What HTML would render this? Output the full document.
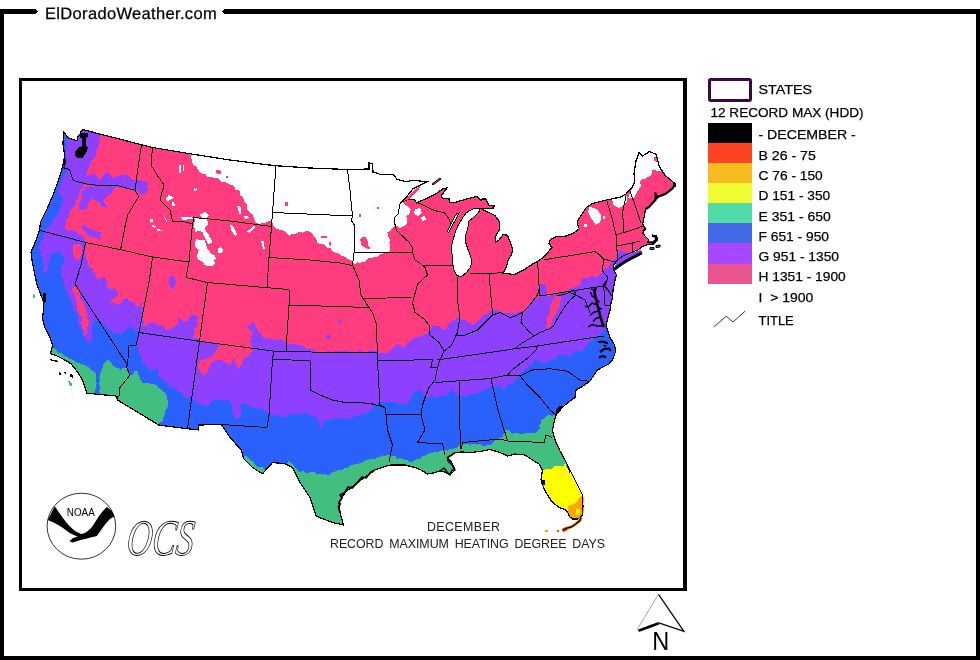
<!DOCTYPE html>
<html><head><meta charset="utf-8"><title>ElDoradoWeather.com</title>
<style>
html,body{margin:0;padding:0;background:#fff;}
body{width:980px;height:660px;position:relative;overflow:hidden;font-family:"Liberation Sans",Arial,sans-serif;color:#000;}
</style></head><body>
<svg width="980" height="660" viewBox="0 0 980 660" style="position:absolute;left:0;top:0;will-change:transform" shape-rendering="crispEdges">
<defs><clipPath id="us">
<polygon points="63.6,132 68.5,138 73,139.5 77,140.6 78,136 80.6,134.5 81,131 83,129.7 103.75,135 142.5,145 152.5,147.5 190,153.75 230,160 265,164.5 276,165.75 310,168 347.5,169.5 369,169 369,163 372.5,163.5 373,172 378,173.5 380,174.5 393,174.5 397.3,179.5 405.9,181.7 413,180.2 420,181 427.5,181.7 421.7,184.5 413,188.8 407.3,196 401.6,201.8 408.8,199 414.5,199.6 416.7,203 423,200 434.7,194.6 443,188.8 447,188 441,196 442,198 449,199 450,202.5 454.8,202.5 459.5,201 469,198.4 477.3,196.4 480.7,200.4 482.7,199 486,199 488.9,205.2 494.3,205.2 493.6,208 485.5,208.6 481.4,208.3 483.6,210.4 489.5,212.7 495,215.5 499,221 499.8,229 495,237.3 495.7,242 499,240 503.2,234.5 507.3,235.2 510,241.4 512.7,249.5 511.4,255 508.6,259 506,267.3 503.2,273.4 510,274 514,274.8 519.5,272 525,269.3 529,266.3 537.6,261.2 543.3,257.6 552,247.6 549,243.2 550.5,239.6 556.3,236.8 566.3,236 573.5,233.2 579.3,228.8 577,223 579.3,218 586.5,207.3 592.2,203.7 606.6,200 620,197.2 626,194 628.6,191 632.3,187.4 634.7,181.4 634,174 636,160.8 639,152.9 642.6,155.9 649.2,151.7 655.9,154 659.5,166.8 665,175.3 675.3,183.8 672.3,188.6 666.2,193.5 660.2,196 655.3,199.5 649.2,206.8 645.6,209.2 644.4,215.3 642.7,224 645,228.6 642.7,233.2 645,236 648.6,239.5 647.7,242.3 653,242.3 656.4,239.5 655,236.4 652.3,236 652.5,235 656,235.5 657.8,239.5 654,244 648,244.5 641.4,246.8 639.5,249.5 635,251 629.5,253.2 623.2,256 616.8,260.5 613.2,266 614,270.5 616.5,275 615,280 613,290 612.5,297.5 611,303 610,310 608,318 606,325 608,331 610,337.5 614,344 616,350 614,356 612.5,360 609,364 605,366 601,368 597.5,370 594,375 590,381 583,386 576,390 575,397.5 570,401 565,405 561,409 557.5,412.5 555,418 554,422.5 552.5,430 554,437 556,442.5 560,451 565,460 570,470 577.5,485 582.5,495 583,507.5 582,516 577.7,519 572.3,519 569.5,516.6 567.5,511.8 564,509 560,508 552.5,502.5 546,492.5 543,486 541,480 542.5,470 539,464 532.5,460 525,455 515,454 507.5,456 500,452.5 490,449.5 480,451.5 470,452.5 462,452 455,452.5 447.5,457.5 452,463 455,470 450,475 445,472 440,471 433,473 427.5,474 421,470 415,467.5 405,465 390,465 375,470 357.5,482.5 345,492.5 339,502.5 340,512.5 343.5,525 332.5,522.5 316.25,516.25 310,497.5 300,482.5 292.5,467.5 285,463.75 272.5,462.5 262.5,473.75 252.5,467.5 243.75,458.75 241.25,450 230,437.5 221.25,424.5 198.75,425 198.75,430 187.5,428.75 158.75,425 117.5,400 116,396 100,394.5 86.8,393.2 82.2,379.5 76.5,370.5 70.9,363.6 63,359 57,356 50.4,353.4 52.7,345.5 50.4,338.6 44.7,327.3 42.5,318.2 43.6,309 43.6,302.3 40.2,293.2 36.8,284 34.5,272.7 32.2,261.4 31,252 35.8,241 39.4,230 40.6,221.8 46.7,209.7 54,192.7 60,175.8 62.4,167 64.8,156 63,144"/>
<polygon points="614,268.6 618,264 624,260 630,257 636,254 641.4,252.3 642,253.5 637,256.5 631,259.5 625,263 619,267 615,270"/>
<polygon points="432,184 440,178 441,179 433,185"/>
<polygon points="650,247.5 654,247.5 654,249.5 650,249.5"/>
<polygon points="656,245.5 660,245 660,247 656,247.5"/>
</clipPath></defs>
<g clip-path="url(#us)">
<rect x="20" y="100" width="670" height="450" fill="#FF3D7E"/>
<polygon points="190,140 189.2,142.8 189.5,145.5 191.2,148.2 190.4,151 190,153.75 190.9,156.6 191.6,159.6 192.5,162.5 192.9,165.4 196.4,165.8 196.6,168.8 198.8,170.3 200,172.5 202.5,173.7 205.4,174.2 207.3,176.7 210,177.5 212.7,177.3 215,178.6 217.8,178 220,180 222,182.3 225,182 227.5,182.9 229.8,184.6 232.5,185 234.6,186.7 235.4,189.6 239.1,189.6 240,192.5 240.5,195.5 242.8,197.5 244,200 245,203 247.6,205 247,207.8 247.6,210.3 249.7,212.4 252.6,214.4 253.9,217.7 255,222 259,224 263.5,223 266.9,222.3 269.8,220.5 272.4,222.1 273,225 276,228.5 280,230 283,230.6 285.6,232 287.8,234 290,236 291.9,233.5 295.4,234.6 297.5,232.5 299.9,231.5 302.6,232.6 305,231.5 307.5,231 310.6,232.5 312.9,234.9 315,237.5 316.7,239.8 317.5,242.5 319.8,243.9 322.8,243.8 324.9,245.8 327.1,247.6 330,247.5 331.7,250.8 335,252.5 337.8,253.2 340.1,254.9 342.5,256.2 345.3,256.9 347.5,258.75 350.3,260.2 352.5,262.5 354.8,264.3 357.7,261.9 360,263.75 362,261.5 365.2,261.7 366.9,258.9 369.7,258.2 372.5,257.5 375.3,257.4 377.9,256.8 379.9,254.3 382.5,253.75 384.6,251.7 388,252.3 390,250 390.4,247.5 390,245 389.5,242.5 390,240 388.7,237.6 387.7,235.2 387.5,232.5 390.5,230.9 392.5,228.1 395,226 397.8,226.2 400,228 404,226 406.4,224.7 407,222 407.3,218.9 406,216 408.8,214.8 410,212 410.8,209.2 409,207 406.5,206.1 405,204 401.6,201.8 404.5,200.7 406.4,198.5 408,196 409.8,193.5 411.6,191 414,189 416.7,188 419.4,186.9 421.6,184.6 424.7,184.3 427.9,184.4 430,182 429.9,179.4 429.7,176.8 431.3,174.1 431.5,171.5 431.3,168.9 428.6,166.2 431.1,163.6 429.1,161 429.5,158.4 431.1,155.8 428.8,153.1 428.9,150.5 429.3,147.9 429.1,145.2 429.5,142.6 430,140" fill="#FFFFFF" />
<polygon points="179.4,164.6 181,164.6 181,172.5 179.4,172.5" fill="#FFFFFF" />
<polygon points="182.5,165 184,165 184,171 182.5,171" fill="#FFFFFF" />
<polygon points="193.5,187.5 195,189 197.5,188 196,191 194.5,190.5" fill="#FFFFFF" />
<polygon points="165.5,199 168,196.5 169,194 170.5,196 174,197.5 171,199.5 168,201" fill="#FFFFFF" />
<polygon points="171.5,202.5 174,202 175,205.5 172.5,205.5" fill="#FFFFFF" />
<polygon points="149.5,219 152.5,218.5 153.5,221 150.5,222.5" fill="#FFFFFF" />
<polygon points="152.5,224.5 156,226.5 155,228 152,226.5" fill="#FFFFFF" />
<polygon points="156.5,228.5 161.5,230 161.5,231.5 157,230.5" fill="#FFFFFF" />
<polygon points="163.5,216.5 164.5,216.5 167.5,221.5 166.5,222" fill="#FFFFFF" />
<polygon points="181,217.5 186,216.8 192,216.5 193,219 187,219.5 182,219.5" fill="#FFFFFF" />
<polygon points="200,214.8 205,211.9 209,215.8 207,217.8 202,217.8" fill="#FFFFFF" />
<polygon points="194,217.8 196.7,217.7 199.4,217.5 201.9,218.1 204.6,217.9 207,219.7 208.2,222 208,224.6 205.7,226 205,228.6 206.2,231.3 208.4,233.5 208.9,236.5 211.3,239 211.9,242.4 208.9,244.3 206.7,241.5 205,238.4 203.7,235.5 203,232.5 199,230.5 195.1,232.5 195.5,229.2 193.5,226.6 193.6,223.7 195,220.8" fill="#FFFFFF" />
<polygon points="197,238.4 199.4,240.2 202.1,240.5 205,240.4 205.5,243.1 206.3,245.6 207,248.1 208.9,250.2 210.2,252.5 212.2,254.2 215.1,255.1 215.8,258 214.2,260.8 214.8,264 212.5,266 209.8,266.1 207,266 204.5,264.9 203.3,262.4 201,261 198,259.3 197,256 197.8,253 199,250.2 196.6,248.6 195,246.3 194.8,243.5 195.7,240.9" fill="#FFFFFF" />
<polygon points="217.8,248.5 221,247.3 223.7,250 221.5,253.2 218.5,252.5" fill="#FFFFFF" />
<polygon points="229.6,224.6 232.5,225.6 237.4,234.5 235.5,236.5 231.5,230.5" fill="#FFFFFF" />
<polygon points="237.4,206 240.4,206.5 241.4,213.8 239,213.8" fill="#FFFFFF" />
<polygon points="244,216 247,215.6 248.6,217.5 246,218.8 244,218" fill="#FFFFFF" />
<polygon points="247.3,231.5 254.2,225.6 255.2,227.6 249.2,232.9" fill="#FFFFFF" />
<polygon points="261,240.4 263.5,241 265,249.2 263,249.2" fill="#FFFFFF" />
<polygon points="415,209 420,208 422,213 418,216 414,214" fill="#FFFFFF" />
<polygon points="421,217 425,216 426,220 422,221" fill="#FFFFFF" />
<polygon points="633,186 637,186 637.7,183 640.3,181.2 642.7,178.8 645.5,179.2 647.4,176.8 650,176.4 652.1,173.7 652.4,170.3 655.6,170.4 658.8,170.8 662,170.3 662.7,167.8 663.1,165.2 661.2,162.7 660.7,160.2 661.3,157.7 662.7,155.2 663,152.6 661.6,150.1 660.9,147.6 661.7,145.1 663.4,142.5 662,140 659.3,140.1 656.7,141.3 654,138.9 651.3,141 648.7,140.6 646,138.7 643.3,139.6 640.7,139.4 638,140.1 635.3,140.5 632.7,139.9 630,140 630,186" fill="#FFFFFF" />
<polygon points="628,198 633,186 640,181 641,186 637,192 634,198" fill="#FFFFFF" />
<polygon points="612,199.5 627,195.5 627.5,200.6 624.5,204.2 621,207 618.5,207.9 613.6,205.5" fill="#FFFFFF" />
<polygon points="589.4,206.7 596.7,209 601.5,215 600.3,222.4 595.5,224.8 590.6,217.6 588,211.5" fill="#FFFFFF" />
<polygon points="584,224 587,224.5 586.5,227 584,226.5" fill="#FFFFFF" />
<polygon points="603,216 605.5,216 605,219.5 603,219" fill="#FFFFFF" />
<polygon points="215.8,170.5 219,169.5 221.7,172 220,174.4 217,174" fill="#FF3D7E" />
<polygon points="226,175.5 228,175.5 228,177.5 226,177.5" fill="#FF3D7E" />
<polygon points="284.7,202 287.6,202.5 287.6,206 285,206" fill="#FF3D7E" />
<polygon points="360,240 362,237 366,237.5 368,242 368.5,246 371,249.5 368,249 364,247 361,245 361.1,242.4" fill="#FF3D7E" />
<polygon points="321,236 327,236.5 327,238.5 321,238" fill="#FF3D7E" />
<polygon points="328.5,241.5 330.5,242 331.5,246 329.5,245.5" fill="#FF3D7E" />
<polygon points="653.6,157 657.3,157.5 657,161.8 654,161" fill="#FF3D7E" />
<polygon points="359,214 361,214 361,217 359,217" fill="#FF3D7E" />
<polygon points="377,207 379,207 379,209 377,209" fill="#FF3D7E" />
<polygon points="20,120 100,120 101.2,122.8 99.5,125.7 99.5,128.5 101.4,131.3 100.4,134.2 100,137 99.9,140.1 99.3,143 98.9,146 96.8,148.5 96.4,151.5 96.5,154.6 94.9,156.8 93.3,159 91.4,161.1 90.3,163.6 90.1,166.2 87.8,168.2 87.5,170.7 86.4,173.1 86.7,175.8 85.9,178.5 84,180.6 85,183.6 83,186 82.2,188.6 80.1,190.7 78.6,193 78.5,196 78.2,198.9 75.5,201 75.5,204 74.3,206.5 72.3,208.4 69.9,210 69.4,213 69.2,216 67.8,218.6 65.8,220.9 65.8,224 64.8,226.7 66.4,229.7 69.2,231.7 72.7,229.5 75.5,231.2 77.6,233.4 80.1,235 83,235.8 84.5,238.7 85.3,241.8 86,246 85,250 85,253.2 86,256 86.3,259.1 88.3,261.7 88.2,264.9 89.8,267.2 92.9,268.8 93.3,271.7 95.6,274.1 95.9,277.7 98.3,280 101.3,277.6 105,276.7 105.9,279.6 107.1,282.4 106.6,285.6 108.3,288.3 111.7,289 115,288.3 117.2,291.4 118.3,295 116.2,296.6 115.1,299.5 111.6,299.4 110,301.7 113.7,302.7 116.7,305 119.2,303.9 121.6,302.6 122.9,300 125,298.3 127.8,298.3 129.2,301.1 131.7,301.7 134.8,302.2 135.3,306.1 138.3,306.7 140.8,304.2 143.3,301.7 142.3,304.1 141.2,306.5 143.5,309.4 141.7,311.7 142.9,314 142,316.9 143,319.3 143.9,321.7 143.3,324.5 145,326.7 147.9,325.3 150.1,322.7 153.3,321.7 156.4,323.9 160,325 163.3,325.7 165.2,328.9 168.3,330 171.6,329.2 173.8,326.4 176.7,325 178.7,322.5 177.7,319.4 178.3,316.7 179.9,318.9 182.7,320.3 183.3,323.3 185.2,321 188.2,319.9 189.4,316.9 191.7,315 195.1,315.3 198.3,316.7 198.6,319.3 196.3,321.5 198.3,324.4 196.7,326.7 194.4,328.7 193.7,331.3 195.2,334.6 193.3,336.7 195.3,338.3 198.3,338.6 199.5,341.3 200.4,343.9 200.5,346.4 198.1,349 200.7,351.6 200.7,354.1 198.7,356.7 200.2,359.2 199.5,361.8 198.1,364.8 197.5,368 199.9,369.3 200.3,372.2 202.9,373.3 203.6,376 206.6,373.6 207.7,370 209.6,367.3 210,364 213,361.9 215.9,359.8 218.7,360.1 221.6,360 224,361.8 227.5,363.1 230,365.9 231.1,363 232.3,360.1 234.3,357.7 235.2,360.6 235.5,363.7 237.3,366.2 238.4,369 239.9,366.8 241.5,364.7 241.5,361.8 243.5,359.4 245.6,356.9 248.6,355.7 250.3,352.9 252.7,350.6 252.7,347.5 251.5,344.9 250,342.4 250.6,339.3 251.3,336.5 252.3,333.8 252.7,331 249.8,330.4 248.2,328.2 246.6,326 249.9,324.4 252.7,322 255.3,323.7 255.3,327.2 257.8,329 258.5,331.7 261.2,333.2 262.7,335.4 263,338.3 265.7,337.5 268,338.9 270.7,338.1 273,339.7 275.8,339.3 278.6,339.8 281.3,339.3 284.3,341.4 287.5,343.4 290.4,344.9 293.8,343.2 296.7,344.5 299.7,345.4 302.6,345.6 304.8,347.5 307.2,349.1 310,349.5 313.2,349.1 315.8,351.7 318.7,352.6 322,352 324.7,351.9 327.4,351.5 330,351 332.5,351.9 335,351.4 337.5,351 340,351 342.5,351.1 345,351 347.5,349.7 350,352.1 352.5,351.1 355,352.4 357.5,352.4 360,349.7 362.5,352 365,351.8 367.5,351.7 370,350.1 372.5,350 375,351 377.6,351.3 379.8,353 382.6,352.5 385.2,352.6 387.5,354 388.4,350.9 391.6,349.8 393.6,347.6 395,345 397.9,344.2 400.3,344.9 402.6,346.7 405,347.5 406,344.5 408.1,342.6 410.5,341 412.2,338.7 415,337.5 417.6,337.3 420.3,337.1 422.5,335.4 424.9,334.2 427.5,334 428.2,331.4 429.8,329.4 432.3,327.8 432.5,325 434.8,326.5 437.5,325.5 440,326 442.1,328.5 445,330 447.3,327.9 447.7,324.6 450,322.5 452.1,320.4 455.4,320.7 456.9,317.5 460,317.5 461.9,319.9 465.6,319.5 467.3,322.3 470.4,322.8 472.5,325 475.4,323.5 477.4,320.8 480,319 482,317.2 483.4,314.7 486.8,314.4 488.9,312.8 490,310 492.5,311 495,309.9 497.5,310 500,312.5 502.5,312.1 505,313.5 507.5,312.5 510,313 512.6,313.2 515,314 517.2,312.2 519.9,311.8 522.5,311 525,310 526.6,307.9 528.4,305.8 530,303.8 532.1,302 533.2,299.5 535,297.5 537.8,297.6 540,296 542.7,297 545.3,295.5 548,296 550.7,295.7 553.2,294.4 556,294.5 558.8,293.8 561.2,292 564,291.5 567.5,290.9 570,288.3 573.1,287.6 576,286.5 580,285 581.4,281.8 581.7,278.3 584.8,277.5 588,278 591.2,275.9 595,276.7 598,276.6 599.9,274.7 601.7,272.5 602.9,269.5 606,268.5 608.4,267.3 609.5,264.8 611.5,262.8 613.2,260.5 616.8,257.7 617.6,254.6 619,251.9 621,249.5 623.2,251.4 627.7,253.2 632.3,251.8 635.4,250.7 638.6,250 642,248 645,246.5 648,245 650,243 651,240 650.5,237 652,233 654.4,231.4 657,231.9 659.7,233.7 662.2,232.5 664.7,232 667.2,231.4 669.7,231.4 672.2,231 674.8,230.6 677.3,230 680,232.3 682.4,231.1 685,231.4 687.5,231 690,230 690,600 20,600" fill="#8E40FF" />
<polygon points="83,178.2 85,176 88,176 90.5,174.1 93.6,173.6 97,177 101.2,179.7 101.8,176.6 104.2,174.6 105.8,172 110,174 111.7,176 113.3,178.2 115.6,177 118,176 120.8,174.5 124,175 127.4,174.7 130,177 131.6,179.5 134.5,179.7 138,180 140.6,179.8 143,181 146.1,181.4 148,184 146.7,186.5 148.6,189.5 147,192 144.3,193.7 142,196 139,193 136,190 133.3,189.2 130.7,188 127.9,187.6 125,188.5 122.7,186.6 120,188.1 117.5,187.5 115,187 112.5,187.5 110,188 107.5,187.2 105,187 102.4,187.7 99.9,187.3 97.6,185.2 95,186 92,185.8 89.1,184.6 86,185 83.1,182.2" fill="#8E40FF" />
<polygon points="86,186.5 88.6,187 91.2,185.6 93.9,187.1 96.5,185.2 99.1,187.7 101.7,187.4 104.3,187.8 106.9,185.5 109.6,185.5 112.2,185.4 114.8,186.5 114.2,189.3 112.1,190.9 111.5,193.6 108.8,194.8 106.5,197.1 104.2,199.4 104.5,202.7 106.9,205.3 107.3,208.5 104.5,206.9 101.2,207 100.7,204.3 98.8,202.6 96.7,201 93.9,199.3 90.6,199.4 89.5,202 87.6,204 87.1,207.1 86,210 82.8,209 80,210.8 78.7,207.5 78.5,204 80.1,201.7 81.5,199.3 81.5,196.4 81.1,193.1 83,190.3" fill="#8E40FF" />
<polygon points="81.5,225 84.8,225.7 87.6,227.4 90,228.8 92.9,229.2 95,231.2 98.2,231.6 101.2,232.7 99.7,235 100.9,237.9 99.7,240.3 97,238 93.6,237.3 89,235.8 87,233.3 84.5,231.2 82.5,228.4" fill="#8E40FF" />
<polygon points="168,277 174,276 176,283 173,290 170,286" fill="#8E40FF" />
<polygon points="325.5,314.5 327,315 327.8,317.6 326,317" fill="#8E40FF" />
<polygon points="337.7,320 339.5,319 341.5,322 340.5,323.7 338.5,322.5" fill="#8E40FF" />
<polygon points="325.5,336 328,334.4 330.8,335.5 330,339.8 327,339" fill="#8E40FF" />
<polygon points="539,284 546,284 547,293 543,297 540,296" fill="#8E40FF" />
<polygon points="199.5,341.5 220,344.5 216,351 211.8,356.7 206,359 200.6,360.8 198.5,351.6" fill="#8E40FF" />
<polygon points="73,245 79,243.5 82,247 81.5,254 79,260 75,259 72.5,252" fill="#FF3D7E" />
<polygon points="72,288 76,286 78,288.7 79.6,291.6 80,295 79.7,298 81.6,300.2 83.6,302.3 84,305 84.9,307.5 86.4,309.9 86.1,312.7 87.6,315.1 87,318 88.7,320.7 88.5,323.5 87.2,326.4 86.3,329.3 88,332 85.4,333.9 85,337 83.4,334.2 84.2,330.8 81.6,328.3 82,325 80.1,322.7 82.2,319.5 81.6,316.9 79.3,314.7 79,312 77.3,309.9 76.7,307.4 77.1,304.6 77.1,302 75,300 75.6,296.7 74.8,293.7 71.6,291.3" fill="#FF3D7E" />
<polygon points="545.5,327 547.3,324.2 546.7,321.1 546.5,318 548.8,315.5 549.7,312.3 550,309 549.8,305.6 551.9,303 553,300 555,295.5 558.1,296.4 561,295 561.2,298.6 560,302 559.5,305.4 558.7,308.6 556,311 555.7,314.5 553.9,317.2 552,320 551.9,323 550.8,325.6 549,328" fill="#FF3D7E" />
<polygon points="20,120 66,120 66.7,123 65.9,126 66.5,129 66.5,132 67.1,134.6 65.9,137.4 67,140 65.6,142.4 67.5,145.1 65.4,147.4 66,150 65.3,152.6 66.7,155 65.4,157.6 67,160 65.6,164.5 64.9,167.1 66.1,169.9 65.6,172.6 64,175 61.8,177.3 62.2,180.4 61.4,183.2 60.3,185.8 59,188.7 58.4,191.6 58.8,194.8 62.6,197.9 62.6,200.7 60.5,203 61.8,206 60.3,208.5 58.8,213 56.6,215.4 54.8,218.1 52.7,220.6 51.2,223.7 49.7,226.7 46.4,227.8 45,231 45.2,233.7 43.2,236 43.6,238.8 41.1,240.4 40.3,242.8 40.3,245.7 39,247.9 41.3,250.8 45,251 48,250.8 50.1,253 52.7,254 55.4,252.7 58.2,251.6 60.3,249.4 59.6,252.4 62.3,254.3 62.6,257 64.8,260 64,263 62,266 60.5,269.4 61,273 61.4,275.8 62.9,278.4 63.6,281.2 64,284 65,286.9 65.4,290.1 67.4,292.6 68.6,295.5 69,298.6 71.5,301 72.1,304.1 73,307 72.9,310.3 76,312.2 77.7,314.7 77.7,318 78,320.7 78,323.4 79,325.9 81,328 83.2,330.6 82.3,334.2 84,337 85.2,339.7 87,342 90,343 91.8,340.6 92.5,337.8 93,335 91.6,332.4 92.5,329.7 92,327 92.6,324.3 93.8,321.6 92.5,319 95.1,320.3 98,321 100.5,322 103.1,322.9 105,325 106.8,327.6 109.1,329.7 112,331 114.2,333.4 117.9,332.5 120,335 122.6,332.6 125,330 127.6,328.6 130,327 133.3,327.2 134.8,330.7 138,331 139.1,334.1 137.6,336.8 136.1,339.5 136.8,342.6 136,345.4 137.8,347.8 137.5,351 139.5,353.4 140.5,356.2 142.3,358.6 142,361.8 144.8,363.2 145.9,366.2 148.3,368 150.4,370 153.8,370.1 156.6,368 158.4,370.2 157.9,373.3 158.5,376 160.7,378 163.1,381 166.8,382 168,384.9 170.4,386.6 173,388 176.4,388.2 177.8,391.9 181,392.5 182.5,395 184.2,397.4 187,398.6 191,396.6 192,399 194.6,400.2 195.4,402.7 197.9,403.5 200.6,403.6 202.8,405.1 205.5,405.3 207.7,406.8 209.6,404.6 210.7,401.6 214.5,401.3 215.9,398.6 218.2,400.3 221.1,398.8 223.2,401.6 226,400.7 230,399 229.6,402.5 232,405 231.7,408.5 232.5,412 233.3,414.5 234,417 237,419 240,416 241.3,412.6 241,409 240.7,405.6 242.5,402.7 244.7,404.6 247.9,403.9 249.7,406.8 252.7,406.8 254.7,408.9 257.9,407.7 259.9,409.9 263,408.8 265,410.9 267.6,412.5 269.7,414.8 273,415 276.9,415.1 280,417.5 282.7,417.1 285.4,417 287.4,414.5 290,414 292.5,413.8 295,413.4 297.6,414.5 300.1,413.7 302.5,413.2 305,412.5 308,413 310.1,415.3 313,416 316.2,417.1 318,420 319.2,422.6 318.7,425.8 321,428 322.8,425.8 323,423 327,420.5 330,420 332.6,419.2 335,418 338.5,417.9 342,418.5 344.8,419.5 347.4,418.7 350,417.5 352.9,418.4 355.1,415.3 358,416 361.1,413.7 365,414 367.6,411.5 371,410.6 373.1,407.9 375,405 379,402.4 382,401.8 385,402.5 388.5,401.8 392,402.5 394.9,401.9 397.4,403.3 400,404 402.6,403.9 405.1,404.4 407.5,405.5 407.3,402.4 410.7,400.9 411,398 412.2,395.3 413.9,392.8 415,390 418.9,389.6 422,392 423.8,395.1 426,398 428.8,398.8 431.2,396 434,397 436.6,397.6 438.9,395.4 441.5,396.3 444,396.3 446.8,395.4 448.2,392.9 450.3,391.1 452,389 453.5,391.7 455.3,394.1 458.5,395.3 460,398 462.2,396 465,397 467.4,395.4 470.1,394.4 473,394 476.6,393.4 480,392 482.3,390.4 485,390 487.3,387.9 489.9,387.1 493,387.5 496.3,385.8 500,385 501.5,388.5 505,390 506,386.9 508,384.7 511.6,384 514.1,382.2 515,379 517.8,378.1 518.3,374.7 520.8,373.5 522.6,371.6 524.5,369.7 527,368.5 528.5,366.2 531,365 533.4,363.6 534,360.3 537,359.5 539.9,361.5 543,363 545.8,362.7 548.2,361.8 550.5,360.4 552.5,358.5 556,358.8 558.1,355.2 561.6,355.5 564.3,354.8 566.9,354.9 569.3,357.2 572,356.5 572.5,353.6 574,351 577,351.2 580,352 583.5,350.5 585,347 587.3,344.8 589.2,342 592.5,341 594,338.8 596.1,337.4 599,336.7 600,334 602.6,332.6 603.8,330 605,327.5 608.3,325.8 612,325 690,325 690,600 20,600" fill="#2A60FB" />
<polygon points="44,247 47.3,247.9 49,251 50.6,254.3 50,258 49.4,260.7 48.3,263.2 48,266 48,268.8 46.8,271.4 46,274 43.5,272.7 43,270 43.8,267.5 44.2,265 42.8,262.5 43,260 42.9,257.2 40.7,254.9 41,252 42.4,249.4" fill="#8E40FF" />
<polygon points="45,335 48.3,336.7 48.5,339.9 51,342 51.8,345.3 53.3,348.3 56.4,349.6 58,352.5 61.1,352.7 63.3,355 66.2,356.6 69,358.5 72.3,359.5 75,361.7 77.5,362.6 80,363.5 82.5,364.2 85,365 87.3,366.8 90,368 91.8,370.8 95,371.7 96.1,374.8 96,378 95.6,380.8 96.7,383.3 96,386.1 95.5,389 95.4,392 95,395 45,395" fill="#42BF80" />
<polygon points="99.5,397 100.3,394 99.1,391 100,388 99.5,385 99.2,382.5 100.4,380 99.4,377.5 100,375 101,371.4 102.5,368 103.3,364.8 105,362 107.5,360 110.2,361.2 112,363.3 113,366 115.3,367.3 118.1,367.9 120,370 123.2,367.8 127,368 127.6,370.5 129.4,372.5 130,375 133.2,374.9 134.4,371.2 137.5,371 137.5,373.7 139.2,375.7 139.8,378.2 141,380.4 142.5,382.5 145.4,383.3 148.5,383.3 151.5,383.8 154.5,384 156.8,385.4 158.4,387.6 160.7,389.1 162.4,391.3 164.8,392.5 166.3,394.8 167.4,397.3 167.5,400 167.8,402.7 168,405.9 166.8,408.5 164.8,410.9 164.9,413.7 163.8,416.1 163,418.6 162.6,421.3 159.4,423.1 160,426 157.6,427.3 155.1,428.2 152.8,429.7 150,430 110,405 107.7,403.7 105,402.9 104.2,399.5 101.7,398.4" fill="#42BF80" />
<polygon points="243,456 246.5,456.5 250,460 253.3,461.4 255,464.5 257,466.9 260,467.5 263.2,467.4 265,470 265.2,473 266,476 263.3,475.5 260.7,477 258,474.9 255.3,475.1 252.7,475.7 250,476 247.8,474 246.8,471.2 246.1,468.2 242.6,467.2 242.1,464 240,462 242.2,459.3" fill="#42BF80" />
<polygon points="280,490 279.5,487.2 280.9,484.9 282.2,482.6 281.8,479.8 283.2,477.5 284.7,475.2 285.6,472.7 286,470.2 285.8,467.4 286.9,465.1 287.8,462.6 288,460 289.8,462.5 292.5,464 294.1,466 295.5,468.3 297.5,470 299.6,472 302.8,470.8 305,472.5 307.5,473.3 310,471.4 312.5,472.1 315,472.5 317.2,474.5 320,473.4 322.4,474.7 325.1,474.2 327.5,475 330.3,474.6 332,471.8 334.9,471.6 337.2,470.1 340.3,470.4 342.8,469.3 345,467.5 348,468 350,465.5 352.7,465.3 355.1,464 357.9,463.9 360.5,463.1 363,462.1 365,460 367.6,460.2 369.9,458.6 372.6,459 375.3,459.4 377.4,457.2 380,457 382.3,455.3 385.1,456.7 387.3,454.7 390,455 392.5,456 395.3,455.8 397.1,458.8 400.1,458.2 402.6,459 405,460 407.7,460.1 409.9,462 412.5,462.5 414.4,460 417.2,459.2 420.2,458.6 422.2,456.3 425.1,455.6 427.5,454 429.9,452.9 432.5,452.8 434.8,451.4 437.6,451.9 440,451 442.4,449.9 445,449.8 447.7,450.7 450,449 452.6,448.6 455.4,448.4 457.6,446.8 459.6,444.5 462.2,443.8 465,444 467.5,443.2 469.9,445.5 472.5,443.8 475,443.8 477.5,444.7 480,443.6 482.5,445.5 484.9,446.3 487.5,444.9 490,445 492.4,443.4 494.1,440.9 497,440 499.5,438 502.5,437 503.5,434 504.2,431.1 503,428 504.8,430.3 508.2,429.7 510,432 512.3,433.7 515,433 517.7,432.5 520,434 522.5,434.2 524.9,432.6 527.5,433.4 530,433 532.8,433 535.6,432.8 538,431 540,428.6 539.1,425.4 541.2,423 541,420 543.5,418.8 545.6,417.1 547.5,415 550,415.4 552.5,415.8 555,415 557.7,412.7 560,410 690,410 690,600 280,600" fill="#42BF80" />
<polygon points="530,475 532.4,472.9 536,474 538.7,472.8 541.7,472.3 544,470 546.6,468.6 549.9,469.2 552.7,468.2 555,466 557.5,466.1 560,465.6 562.6,466.7 564.9,463.9 567.5,465 569.9,465.9 572.7,464.6 574.9,466.8 577.3,467.8 580,467 582.5,467.1 585,467.6 587.5,468.1 590.2,467.1 592.7,467.5 594.8,470.4 597.5,469.9 600,470 600,540 530,540" fill="#FFFF00" />
<polygon points="567.5,511 568.8,508.6 568,506 572,505 576,503 577.7,500.6 579,498 581.5,496 584.3,495 587.2,495.6 590,496 590.8,498.6 589.7,501.3 590.7,503.9 590.5,506.5 591.2,509.2 590.3,511.8 589.5,514.5 589.2,517.1 589.9,519.7 590.5,522.4 590,525 587.3,525.8 584.7,526.3 582,526.2 579.3,525.7 576.7,524.1 574,526.3 571.3,526.2 568.7,524.1 566,525 567,522.3 568,519.6 568.3,516.7 568.2,513.9" fill="#FFA500" />
<polygon points="576,509 579,508.5 580,512 578,515 575.5,514.5" fill="#FFFF00" />
</g>
<polygon points="480,208.6 478.6,212.7 474,217 469,221 467.7,229 465,237.3 465.7,242.7 469,252.3 471.8,260.5 470.5,267.3 466.4,272.7 461,276.8 456.8,275.5 454,270 452.7,263.2 452,253.6 451.4,246.8 453.4,238.6 455.5,231.8 457.5,226.4 462.3,218.2 466.4,212.7 471.8,209.3 476,208" fill="#fff" stroke="#000" stroke-width="1"/>
<polygon points="459,213 456,219 452,226 448.6,232.5 447.5,231 451,224 454.5,217 457,213.5" fill="#fff" stroke="#000" stroke-width="1"/>
<g fill="none" stroke="#000" stroke-width="1" shape-rendering="crispEdges">
<polyline points="62.4,167.3 69.7,169.7 73.3,180.6 87.9,184.2 100,185.5 117,185.5 135,190.3" />
<polyline points="141.5,144.7 138.8,162.4 135,190.3" />
<polyline points="135,190.3 138.8,196.4 127.9,214.5 125.5,224 120.6,249.7" />
<polyline points="39.4,230.3 85.5,242.4 120.6,249.7 152.5,257 189,262" />
<polyline points="85.5,242.4 81,265 75,284 127.5,365" />
<polyline points="139,332.5 136,345 129,346 127.5,365 126,366 130,375 120,387.5 119,396 116,398" />
<polyline points="152.5,257 149.4,280 139,332.5" />
<polyline points="152.5,147.5 151,165 157,175 164,185 160,200 170,210 172.5,221 185,222 192.5,224" />
<polyline points="194,217.5 192.5,224 189,262 186,277.5" />
<polyline points="194,217.5 230,221 271.5,226.5" />
<polyline points="276,166 272.5,212.5 271.5,226.5 269,257.5 267,288" />
<polyline points="272.5,212.5 352.5,216" />
<polyline points="269,257.5 310,260 340,263 350,265 352.5,265" />
<polyline points="186,277.5 207.5,282.5 265,287.5 289,289.5" />
<polyline points="289,289.5 289,305 286,351" />
<polyline points="289,305 369,307.5" />
<polyline points="139,332.5 199.5,341.3 273,351 330,352.5 377.5,353" />
<polyline points="207.5,282.5 199.5,341.3 187.5,428.75" />
<polyline points="274,351 272.5,359 269,415 267,427.5" />
<polyline points="221.25,424.5 267,427.5" />
<polyline points="272.5,359 310,361 310,390 320,395 332.5,400 345,402.5 360,402.5 372.5,404 385,407.5" />
<polyline points="347.5,169.5 350,190 352.5,216 351.5,221 354.5,225 354,253 352.5,265" />
<polyline points="352.5,265 359,280 361,295 369,307.5 372.5,312.5 376,322.5 377.5,352.5" />
<polyline points="354,253 412.5,252" />
<polyline points="362.5,299 411,297" />
<polyline points="401.6,201.8 399.4,204.7 398.7,213.3 394.4,217.6 394.4,222 396.5,230.6 408.8,242 412.5,247.5 412.5,252 415,260 420,263 425,267.5" />
<polyline points="425,267.5 427.5,275 417.5,284 416,290 412.5,302.5 415,312.5 424,319 429,325 430,335 439,342.5 444,351 440,360 437.5,367.5 435,380 429,387.5 425,397.5 422.5,405 421,415 425,430 417.5,442.5" />
<polyline points="422.5,266 452.7,265.2" />
<polyline points="377.5,361 432.5,359.5 431,367.5 437,367.5" />
<polyline points="377.5,353 377.5,361 380,405 385,407.5 386,415 387.5,430 392.5,445 389,462.5" />
<polyline points="386,415 422.5,414.5" />
<polyline points="417.5,442.5 442.5,444 445,455" />
<polyline points="457.5,276.8 457.5,300 460,317.5 457.5,332.5 455,337.5" />
<polyline points="444,351 451,346 456,336 465,335 477.5,330 485,322.5 492.5,315 500,312.5 510,317.5 515,316 522.5,312.5 530,305 537.5,295 540,285" />
<polyline points="489,273.4 492.5,314" />
<polyline points="470.5,274 489,273.4 503,272.7" />
<polyline points="437,360 490,352.5 515,348.75 537.5,346 570,341 603.75,336" />
<polyline points="435,382.5 491,378.5 507.5,375 512,370 520,363.75 528,358 536,350 537.5,346" />
<polyline points="507.5,375 520,376 532.5,370 550,368.75 567.5,371.25 580,380 588.75,381.25" />
<polyline points="520,376 527.5,385 540,397.5 550,410 556,415" />
<polyline points="459,381 460,430 461,449" />
<polyline points="491,379 498,410 504,430 505,432.5 507.5,441" />
<polyline points="507.5,441 544,442.5 546,435 552.5,437.5" />
<polyline points="461,449 462.5,442.5 500,439 507.5,441" />
<polyline points="522.5,312.5 521,322.5 527.5,330 534,336 519,345 515,348.75" />
<polyline points="534,336 540,332.5 552.5,327.5 562.5,310 570,300 576,295 574,290" />
<polyline points="540,296 600,286.5 604,287" />
<polyline points="557.5,296 570,292.5 576,295 585,300 590,312.5" />
<polyline points="603.75,286.5 605,305 611,305" />
<polyline points="544,259.8 595,251.6 599.4,254.7 603.7,259 615,262" />
<polyline points="603.7,259 602.3,270.6 608,277.8 605,285 604,287" />
<polyline points="537.6,261.2 539,285 540,296" />
<polyline points="606.6,200 612,218 616,235 616.7,247.5 617.5,255 618,262" />
<polyline points="626,196 622.5,212.5 624,232.5" />
<polyline points="630,191 636,208 641,222.5" />
<polyline points="616,235 624,232.5 638,228 642.5,226" />
<polyline points="617.5,246 632,243 640,241" />
<polyline points="632,243 633,254" />
<polyline points="417.4,202.5 435,210.7 444.5,212.7 448.6,218.2 450.7,223.6" />
</g>
<polygon points="63.6,132 68.5,138 73,139.5 77,140.6 78,136 80.6,134.5 81,131 83,129.7 103.75,135 142.5,145 152.5,147.5 190,153.75 230,160 265,164.5 276,165.75 310,168 347.5,169.5 369,169 369,163 372.5,163.5 373,172 378,173.5 380,174.5 393,174.5 397.3,179.5 405.9,181.7 413,180.2 420,181 427.5,181.7 421.7,184.5 413,188.8 407.3,196 401.6,201.8 408.8,199 414.5,199.6 416.7,203 423,200 434.7,194.6 443,188.8 447,188 441,196 442,198 449,199 450,202.5 454.8,202.5 459.5,201 469,198.4 477.3,196.4 480.7,200.4 482.7,199 486,199 488.9,205.2 494.3,205.2 493.6,208 485.5,208.6 481.4,208.3 483.6,210.4 489.5,212.7 495,215.5 499,221 499.8,229 495,237.3 495.7,242 499,240 503.2,234.5 507.3,235.2 510,241.4 512.7,249.5 511.4,255 508.6,259 506,267.3 503.2,273.4 510,274 514,274.8 519.5,272 525,269.3 529,266.3 537.6,261.2 543.3,257.6 552,247.6 549,243.2 550.5,239.6 556.3,236.8 566.3,236 573.5,233.2 579.3,228.8 577,223 579.3,218 586.5,207.3 592.2,203.7 606.6,200 620,197.2 626,194 628.6,191 632.3,187.4 634.7,181.4 634,174 636,160.8 639,152.9 642.6,155.9 649.2,151.7 655.9,154 659.5,166.8 665,175.3 675.3,183.8 672.3,188.6 666.2,193.5 660.2,196 655.3,199.5 649.2,206.8 645.6,209.2 644.4,215.3 642.7,224 645,228.6 642.7,233.2 645,236 648.6,239.5 647.7,242.3 653,242.3 656.4,239.5 655,236.4 652.3,236 652.5,235 656,235.5 657.8,239.5 654,244 648,244.5 641.4,246.8 639.5,249.5 635,251 629.5,253.2 623.2,256 616.8,260.5 613.2,266 614,270.5 616.5,275 615,280 613,290 612.5,297.5 611,303 610,310 608,318 606,325 608,331 610,337.5 614,344 616,350 614,356 612.5,360 609,364 605,366 601,368 597.5,370 594,375 590,381 583,386 576,390 575,397.5 570,401 565,405 561,409 557.5,412.5 555,418 554,422.5 552.5,430 554,437 556,442.5 560,451 565,460 570,470 577.5,485 582.5,495 583,507.5 582,516 577.7,519 572.3,519 569.5,516.6 567.5,511.8 564,509 560,508 552.5,502.5 546,492.5 543,486 541,480 542.5,470 539,464 532.5,460 525,455 515,454 507.5,456 500,452.5 490,449.5 480,451.5 470,452.5 462,452 455,452.5 447.5,457.5 452,463 455,470 450,475 445,472 440,471 433,473 427.5,474 421,470 415,467.5 405,465 390,465 375,470 357.5,482.5 345,492.5 339,502.5 340,512.5 343.5,525 332.5,522.5 316.25,516.25 310,497.5 300,482.5 292.5,467.5 285,463.75 272.5,462.5 262.5,473.75 252.5,467.5 243.75,458.75 241.25,450 230,437.5 221.25,424.5 198.75,425 198.75,430 187.5,428.75 158.75,425 117.5,400 116,396 100,394.5 86.8,393.2 82.2,379.5 76.5,370.5 70.9,363.6 63,359 57,356 50.4,353.4 52.7,345.5 50.4,338.6 44.7,327.3 42.5,318.2 43.6,309 43.6,302.3 40.2,293.2 36.8,284 34.5,272.7 32.2,261.4 31,252 35.8,241 39.4,230 40.6,221.8 46.7,209.7 54,192.7 60,175.8 62.4,167 64.8,156 63,144" fill="none" stroke="#000" stroke-width="1.25" shape-rendering="crispEdges"/>
<polygon points="614,268.6 618,264 624,260 630,257 636,254 641.4,252.3 642,253.5 637,256.5 631,259.5 625,263 619,267 615,270" fill="none" stroke="#000" stroke-width="1" shape-rendering="auto"/>
<polygon points="432,184 440,178 441,179 433,185" fill="none" stroke="#000" stroke-width="1" shape-rendering="auto"/>
<polygon points="650,247.5 654,247.5 654,249.5 650,249.5" fill="none" stroke="#000" stroke-width="1" shape-rendering="auto"/>
<polygon points="656,245.5 660,245 660,247 656,247.5" fill="none" stroke="#000" stroke-width="1" shape-rendering="auto"/>
<polygon points="79.7,133 84,132.6 88,133.5 88.5,137 86,138 86.5,146 88,147.5 86,153 83,157.5 78,158.5 75,156 75.5,151 78.5,147.5 82,146 82.5,138 80,137.5" fill="#000" />
<polygon points="402,202 408,196 414,190 421,185.5 419,189 413,195 409,199" fill="#FF3D7E"/>
<polyline points="595.5,287 594.5,293 596,299 597.5,305 599,311 600.5,317 602,322 604,327" fill="none" stroke="#000" stroke-width="2.6" stroke-linejoin="round" shape-rendering="auto"/>
<polyline points="597.5,305 592,303 588,307.5 585,306" fill="none" stroke="#000" stroke-width="1.6" stroke-linejoin="round" shape-rendering="auto"/>
<polyline points="599,311 594,312 590,315.5" fill="none" stroke="#000" stroke-width="1.6" stroke-linejoin="round" shape-rendering="auto"/>
<polyline points="600.5,317 596,318.5 593,321.5" fill="none" stroke="#000" stroke-width="1.6" stroke-linejoin="round" shape-rendering="auto"/>
<polyline points="603,326 597,326 592,324.5 588.3,327" fill="none" stroke="#000" stroke-width="1.6" stroke-linejoin="round" shape-rendering="auto"/>
<polyline points="596,299 592,296 590.5,292" fill="none" stroke="#000" stroke-width="1.5" stroke-linejoin="round" shape-rendering="auto"/>
<polyline points="597,300 600,302" fill="none" stroke="#000" stroke-width="1.5" stroke-linejoin="round" shape-rendering="auto"/>
<polyline points="599,308 602,309" fill="none" stroke="#000" stroke-width="1.5" stroke-linejoin="round" shape-rendering="auto"/>
<polyline points="594,290 591,289" fill="none" stroke="#000" stroke-width="1.5" stroke-linejoin="round" shape-rendering="auto"/>
<polyline points="604,287 606.7,281 603.3,285 608,290 611.7,296" fill="none" stroke="#000" stroke-width="1.4" stroke-linejoin="round" shape-rendering="auto"/>
<polyline points="598,342 603,341.5 608,343.5" fill="none" stroke="#000" stroke-width="2" stroke-linejoin="round" shape-rendering="auto"/>
<polyline points="600,352 604,349 609,348.5 611,351" fill="none" stroke="#000" stroke-width="2.2" stroke-linejoin="round" shape-rendering="auto"/>
<polyline points="599,357.5 603,356 606,357.5" fill="none" stroke="#000" stroke-width="2" stroke-linejoin="round" shape-rendering="auto"/>
<polyline points="604,345 606,347" fill="none" stroke="#000" stroke-width="1.6" stroke-linejoin="round" shape-rendering="auto"/>
<polyline points="675.3,183.8 672.3,188.6 666.2,193.5 660.2,196 656.5,196.8 655.5,193 655.8,199.5 649.2,206.8 645.6,209.2" fill="none" stroke="#000" stroke-width="2.2" stroke-linejoin="round" shape-rendering="auto"/>
<polygon points="673,181.5 676.5,183 675.5,186.5 672.5,186" fill="#000"/>
<polygon points="614,268.5 617,261 623,256.5 630,253.5 636,251.5 641,250 642.5,253.5 636,257 630,260 624,263.5 618,267.5" fill="#8E40FF"/>
<polyline points="647.7,242.3 653,242.3 656.4,239.5 655,236.4 652.3,236" fill="none" stroke="#000" stroke-width="2" stroke-linejoin="round" shape-rendering="auto"/>
<polyline points="614.5,269.3 619,265.5 625,261.5 631,258.3 637,255.2 641.7,253" fill="none" stroke="#000" stroke-width="2.6" stroke-linejoin="round" shape-rendering="auto"/>
<polyline points="643,231 645.5,229 644.5,227.5" fill="none" stroke="#000" stroke-width="1.8" stroke-linejoin="round" shape-rendering="auto"/>
<polyline points="339,502.5 342,498 340,495 345,492.5 348,487 352,488 357.5,482.5 362,477 366,478 371,472 375,470" fill="none" stroke="#000" stroke-width="1.8" stroke-linejoin="round" shape-rendering="auto"/>
<polyline points="340,512.5 338.5,507 340.5,503" fill="none" stroke="#000" stroke-width="1.8" stroke-linejoin="round" shape-rendering="auto"/>
<polyline points="440,471 444,468 447,472 450,475 452,470 455,470 452,465 448,461 447.5,457.5 452,455 455,452.5" fill="none" stroke="#000" stroke-width="1.5" stroke-linejoin="round" shape-rendering="auto"/>
<polyline points="581,517.5 579.8,520.7 575.7,524 571.6,526.8 566.8,528.2 562.7,530.2" fill="none" stroke="#FFA500" stroke-width="3.2" stroke-linejoin="round" shape-rendering="auto"/>
<polyline points="567,528.6 562.5,530.8" fill="none" stroke="#FF4500" stroke-width="3.4" stroke-linejoin="round" shape-rendering="auto"/>
<polyline points="581,517.5 579.8,520.7 575.7,524 571.6,526.8 566.8,528.2 562.7,530.2" fill="none" stroke="#000" stroke-width="1.5" stroke-linejoin="round" shape-rendering="auto"/>
<polyline points="583.6,497 583.8,503" fill="none" stroke="#FFA500" stroke-width="1.2" stroke-linejoin="round" shape-rendering="auto"/>
<polyline points="583.8,507 583.2,513" fill="none" stroke="#FFA500" stroke-width="1.2" stroke-linejoin="round" shape-rendering="auto"/>
<rect x="545" y="530" width="3" height="2" fill="#FFA500"/><rect x="556.5" y="529.5" width="2.5" height="2.5" fill="#FF4500"/>
<polygon points="556,409.5 559.5,406 563,406.5 561,410 558,413 556,412.5" fill="#000"/>
<polygon points="541.5,480 544.5,480.5 545,484.5 542.5,485" fill="#000"/>
<polygon points="566,464.5 568,465 570.5,471 569.5,472.5" fill="#000"/>
<polygon points="42.8,292.5 45.5,293 46.3,300 44.5,303.5 43.2,299" fill="#000"/>
<polygon points="50,359 57,360.5 58,362 51,361" fill="#000"/>
<polygon points="59,372 61,373 61,375 59,374.5" fill="#000"/><polygon points="64,371.5 66,372.5 66,374 64,373" fill="#000"/><polygon points="69.5,373 73,375 73.5,378 70.5,377" fill="#000"/>
<polygon points="68,381 71,382 72.5,386 70,386" fill="#42BF80"/>
<polygon points="33,294 35,295 35,298 33.5,298" fill="#42BF80"/>
<polyline points="64.5,158 65,162 64,166" fill="none" stroke="#000" stroke-width="1.8" stroke-linejoin="round" shape-rendering="auto"/>
<g fill="#000">
<rect x="0" y="9" width="4" height="651"/>
<rect x="976" y="9" width="4" height="651"/>
<rect x="0" y="656" width="980" height="4"/>
<polygon points="0,9 36,9 38,11.5 36,14 0,14"/>
<polygon points="980,9 224.5,9 222,11.5 224.5,14 980,14"/>
<rect x="19" y="78" width="668" height="3"/>
<rect x="19" y="588" width="668" height="3"/>
<rect x="19" y="78" width="3" height="513"/>
<rect x="683" y="78" width="4" height="513"/>
</g>
<text x="45" y="18.8" font-family='"Liberation Sans", Arial, sans-serif' font-size="16.5" letter-spacing="0.33" stroke="#000" stroke-width="0.25" text-rendering="geometricPrecision">ElDoradoWeather.com</text>
<rect x="709.5" y="79.5" width="41" height="21" rx="1.2" fill="#fff" stroke="#3B0A45" stroke-width="3" shape-rendering="auto"/>
<rect x="708" y="122.5" width="44" height="20" fill="#000000"/>
<rect x="708" y="142.5" width="44" height="20.2" fill="#FC4422"/>
<rect x="708" y="162.7" width="44" height="20.3" fill="#F8BC20"/>
<rect x="708" y="183" width="44" height="20" fill="#F0FC30"/>
<rect x="708" y="203" width="44" height="20.2" fill="#50DCA8"/>
<rect x="708" y="223.2" width="44" height="20.1" fill="#4468E6"/>
<rect x="708" y="243.3" width="44" height="20.4" fill="#A548FF"/>
<rect x="708" y="263.7" width="44" height="20.3" fill="#EA5590"/>
<text x="758.5" y="94.0" font-family='"Liberation Sans", Arial, sans-serif' font-size="13.5" textLength="53.5" lengthAdjust="spacingAndGlyphs" stroke="#000" stroke-width="0.25" xml:space="preserve">STATES</text>
<text x="758.5" y="139.2" font-family='"Liberation Sans", Arial, sans-serif' font-size="13.5" textLength="97.25" lengthAdjust="spacingAndGlyphs" stroke="#000" stroke-width="0.25" xml:space="preserve">- DECEMBER -</text>
<text x="758.5" y="159.8" font-family='"Liberation Sans", Arial, sans-serif' font-size="13.5" textLength="57.25" lengthAdjust="spacingAndGlyphs" stroke="#000" stroke-width="0.25" xml:space="preserve">B 26 - 75</text>
<text x="758.5" y="179.8" font-family='"Liberation Sans", Arial, sans-serif' font-size="13.5" textLength="64.25" lengthAdjust="spacingAndGlyphs" stroke="#000" stroke-width="0.25" xml:space="preserve">C 76 - 150</text>
<text x="758.5" y="199.8" font-family='"Liberation Sans", Arial, sans-serif' font-size="13.5" textLength="71.75" lengthAdjust="spacingAndGlyphs" stroke="#000" stroke-width="0.25" xml:space="preserve">D 151 - 350</text>
<text x="758.5" y="220.6" font-family='"Liberation Sans", Arial, sans-serif' font-size="13.5" textLength="72.25" lengthAdjust="spacingAndGlyphs" stroke="#000" stroke-width="0.25" xml:space="preserve">E 351 - 650</text>
<text x="758.5" y="240.8" font-family='"Liberation Sans", Arial, sans-serif' font-size="13.5" textLength="70.5" lengthAdjust="spacingAndGlyphs" stroke="#000" stroke-width="0.25" xml:space="preserve">F 651 - 950</text>
<text x="758.5" y="260.8" font-family='"Liberation Sans", Arial, sans-serif' font-size="13.5" textLength="80.5" lengthAdjust="spacingAndGlyphs" stroke="#000" stroke-width="0.25" xml:space="preserve">G 951 - 1350</text>
<text x="758.5" y="280.8" font-family='"Liberation Sans", Arial, sans-serif' font-size="13.5" textLength="87.25" lengthAdjust="spacingAndGlyphs" stroke="#000" stroke-width="0.25" xml:space="preserve">H 1351 - 1900</text>
<text x="758.5" y="301.8" font-family='"Liberation Sans", Arial, sans-serif' font-size="13.5" textLength="54.75" lengthAdjust="spacingAndGlyphs" stroke="#000" stroke-width="0.25" xml:space="preserve">I  &gt; 1900</text>
<text x="758.5" y="324.8" font-family='"Liberation Sans", Arial, sans-serif' font-size="13.5" textLength="35.25" lengthAdjust="spacingAndGlyphs" stroke="#000" stroke-width="0.25" xml:space="preserve">TITLE</text>
<text x="710.5" y="117.4" font-family='"Liberation Sans", Arial, sans-serif' font-size="13.5" textLength="153" lengthAdjust="spacingAndGlyphs" stroke="#000" stroke-width="0.25">12 RECORD MAX (HDD)</text>
<polyline points="713.75,327 726.25,316.25 733,322 745,311.25" fill="none" stroke="#333" stroke-width="1" shape-rendering="auto"/>
<g shape-rendering="auto" fill="none" stroke="#000" stroke-linejoin="miter">
<polyline points="636.7,630.2 658.5,594.4" stroke-width="0.5" stroke="#555"/>
<polyline points="658.5,594.4 683.9,631.4 658.8,622.9" stroke-width="1.2"/>
<polyline points="658.8,623.2 638.5,630.8" stroke-width="2.6"/>
</g>
<text x="652.3" y="650.4" font-family='"Liberation Sans", Arial, sans-serif' font-size="26.5" textLength="17" lengthAdjust="spacingAndGlyphs">N</text>
<text x="463.5" y="530.5" text-anchor="middle" font-family='"Liberation Sans", Arial, sans-serif' font-size="12.4" textLength="73" lengthAdjust="spacing" fill="#222">DECEMBER</text>
<text x="467.5" y="547.5" text-anchor="middle" font-family='"Liberation Sans", Arial, sans-serif' font-size="12.4" word-spacing="2.5" textLength="275" lengthAdjust="spacing" fill="#222">RECORD MAXIMUM HEATING DEGREE DAYS</text>
<g shape-rendering="auto">
<ellipse cx="81.4" cy="526.2" rx="34.3" ry="33" fill="#fff" stroke="#000" stroke-width="0.8"/>
<path d="M54.7,506.2 C58,511 62,517 66,522 C71,528 76,532.5 81.6,534 C86,533 90,530 93,525.5 C97,519 101,512 106.9,507 L111.8,511 L114.6,516.5 C110,518 107,522 104,526 C101,530 99,533 96.8,536 L93.9,536.8 C89,538 85,539 80.8,540 L72.7,542.4 L69.4,541.3 L72.7,538.2 L77.6,536.4 C73,535 70,533.5 67,531 C62,527 56,523 47.8,520 Z" fill="#000"/>
<text x="80.8" y="516" text-anchor="middle" font-family='"Liberation Sans", Arial, sans-serif' font-size="11" textLength="28" lengthAdjust="spacingAndGlyphs">NOAA</text>
</g>
<text transform="translate(125.5,554.6) skewX(-6)" x="0" y="0" font-family='"Liberation Serif","Times New Roman",serif' font-style="italic" font-size="51" fill="#fff" stroke="#000" stroke-width="0.9" textLength="67" lengthAdjust="spacingAndGlyphs" shape-rendering="auto">OCS</text>
</svg>
</body></html>
